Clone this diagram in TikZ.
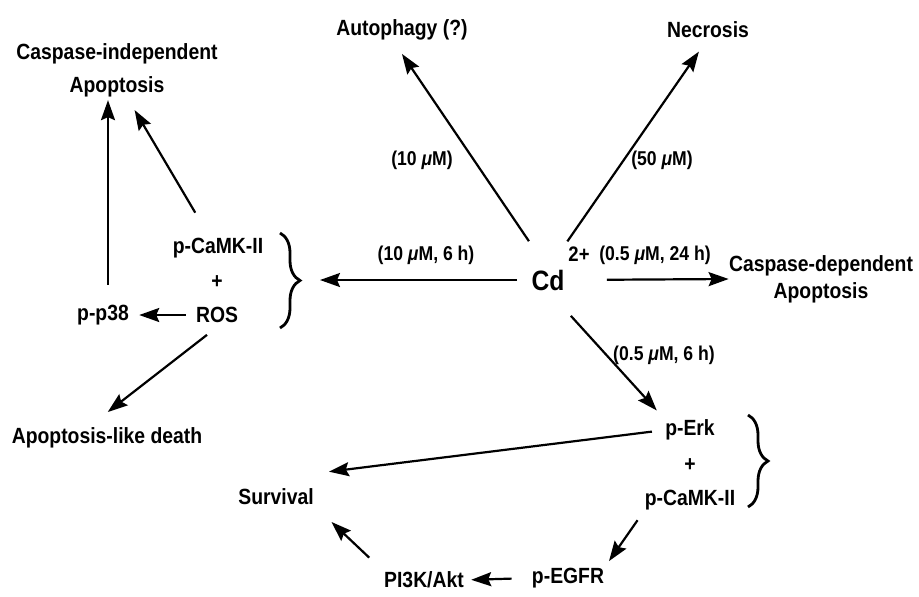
\documentclass[tikz,border=0pt]{standalone}
\usepackage{fontspec}
\setmainfont{Liberation Sans}[FakeStretch=0.88]
\usetikzlibrary{arrows.meta,decorations.pathreplacing}
\tikzset{>={Stealth[length=10pt,width=7pt,inset=1.5pt]},every node/.style={inner sep=0pt,font=\fontsize{11}{16.5}\selectfont\bfseries},flow/.style={line width=1.1pt,->},dose/.style={font=\fontsize{10}{12}\selectfont\bfseries},bracket/.style={line width=1.4pt,decorate,decoration={brace,amplitude=10pt}}}
\newcommand{\um}{{\itshape μ}M}
\begin{document}
\begin{tikzpicture}[x=0.5pt,y=-0.5pt]
\useasboundingbox (0,0) rectangle (919,596);
\node[font=\fontsize{14}{16}\selectfont\bfseries] (cd) at (548,280) {Cd};\node[dose,font=\fontsize{10.5}{12}\selectfont\bfseries] (cdsup) at (579,254) {2+};
\node[align=center] (cia) at (117,70) {Caspase-independent\\Apoptosis};\node (auto) at (402,30) {Autophagy (?)};\node (necr) at (708,30) {Necrosis};
\node[align=center,font=\fontsize{11}{13.5}\selectfont\bfseries] (csd) at (821,279) {Caspase-dependent\\Apoptosis};
\node (pcamL) at (218,248) {p-CaMK-II};\node (plusL) at (217,282) {+};\node (ros) at (217,315) {ROS};\node (pp38) at (103,315) {p-p38};\node (apld) at (107,438) {Apoptosis-like death};
\node (perk) at (690,430) {p-Erk};\node (plusR) at (690,465) {+};\node (pcamR) at (690,500) {p-CaMK-II};
\node (surv) at (276,497) {Survival};\node (pegfr) at (568,578) {p-EGFR};\node (pi3k) at (424,580) {PI3K/Akt};
\node[dose] (d10) at (422,160) {(10 \um)};\node[dose] (d50) at (662,160) {(50 \um)};\node[dose] (d10h6) at (426,255) {(10 \um, 6 h)};
\node[dose] (d05h24) at (655,255) {(0.5 \um, 24 h)};\node[dose] (d05h6) at (664,355) {(0.5 \um, 6 h)};
\draw[bracket] (280,233)--(280,328);\coordinate (br1) at (300,280);\draw[bracket] (748,415)--(748,507);
\draw[flow,shorten <=17pt,shorten >=8pt] (cd.north)--([xshift=-4.5pt]auto.south);\draw[flow,shorten <=17pt,shorten >=8pt] (cd.north)--(necr.south);
\draw[flow,shorten <=7pt,shorten >=10pt] (cd.west)--(br1);\draw[flow,shorten <=21pt] (cd.east)--(csd.west);
\draw[flow,shorten <=17pt,shorten >=6pt] (cd.south)--(perk.north west);
\draw[flow,shorten <=14.5pt,shorten >=7.5pt] ([xshift=-4pt]pcamL.north)--([xshift=5pt]cia.south);
\draw[flow,shorten <=10pt,shorten >=1.5pt] ([xshift=2.5pt]pp38.north)--([xshift=2.5pt]pp38.north |- cia.south);
\draw[flow,shorten <=5pt,shorten >=5pt] (ros.west)--(pp38.east);\draw[flow,shorten <=9.5pt,shorten >=12.5pt] ([xshift=2.5pt]ros.south)--([xshift=-9.5pt]apld.north);
\draw[flow,shorten <=6.5pt,shorten >=7.5pt] (perk.west)--([yshift=7.5pt]surv.north east);
\draw[flow,shorten <=6pt,shorten >=4pt] (pcamR.south west)--(pegfr.north east);\draw[flow,shorten <=10pt,shorten >=3.5pt] (pegfr.west)--(pi3k.east);
\draw[flow,shorten <=10pt,shorten >=12pt] (pi3k.north west)--(surv.south east);
\end{tikzpicture}
\end{document}
